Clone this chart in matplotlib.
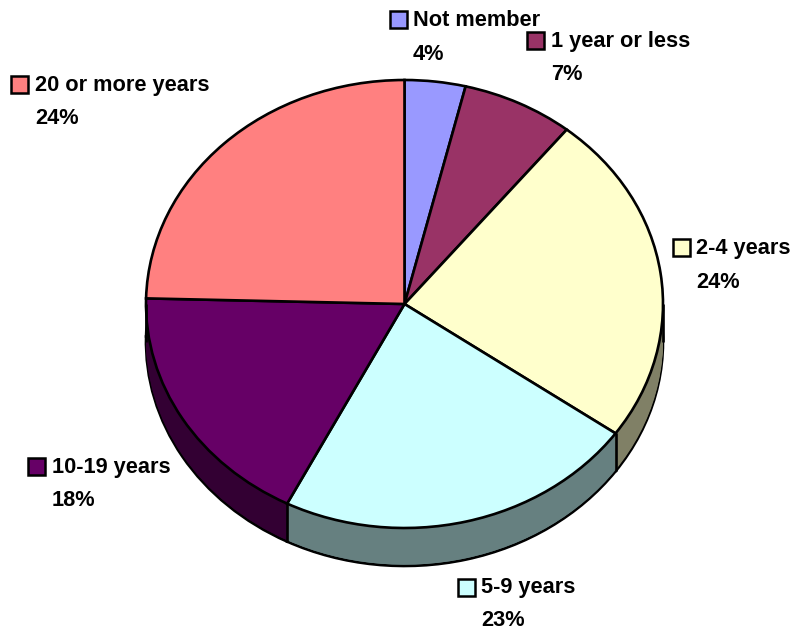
import numpy as np
import matplotlib
matplotlib.use("Agg")
import matplotlib.pyplot as plt
from matplotlib.patches import Rectangle

categories = ["Not member", "1 year or less", "2-4 years", "5-9 years", "10-19 years", "20 or more years"]
shares = [3.8, 7.0, 24.0, 22.7, 17.9, 24.6]
pct_labels = ["4%", "7%", "24%", "23%", "18%", "24%"]
top_colors = ["#9999FF", "#993366", "#FFFFCC", "#CCFFFF", "#660066", "#FF8080"]
side_colors = ["#666699", "#4d1a33", "#808066", "#668080", "#330033", "#804040"]

W, H = 794, 635
CX, CY, RX, RY, DEPTH = 404.5, 304, 258.5, 224, 38

# label anchors in pixels: swatch left/top, name x, name y, pct x, pct y
label_pos = {
    "Not member": (390, 11, 413, 20, 413, 54),
    "1 year or less": (527, 32, 551, 41, 551, 74),
    "2-4 years": (673, 239, 696, 249, 696, 282),
    "5-9 years": (458, 579, 481, 588, 481, 621),
    "10-19 years": (28, 458, 52, 467, 52, 501),
    "20 or more years": (11, 76, 35, 86, 35, 118),
}

plt.rcParams["font.family"] = ["Liberation Sans", "DejaVu Sans"]
fig = plt.figure(figsize=(W / 100, H / 100), dpi=100)
ax = fig.add_axes([0, 0, 1, 1])

depth = DEPTH / RY
kw = dict(startangle=90, counterclock=False, radius=1)
LW = 1.9

# side wall: stacked copies of the pie, bottom one keeps the outline
ax.pie(shares, colors=side_colors, center=(0, -depth), wedgeprops=dict(edgecolor="black", linewidth=LW), **kw)
for off in np.linspace(depth - 0.006, 0.0, 30):
    ax.pie(shares, colors=side_colors, center=(0, -off), wedgeprops=dict(linewidth=0), **kw)

# wall edges at slice borders and at the outer sides
ends = 90 - np.cumsum(shares) / np.sum(shares) * 360
for a in ends:
    x, y = np.cos(np.radians(a)), np.sin(np.radians(a))
    if y < 0:
        ax.plot([x, x], [y, y - depth], color="black", lw=LW, solid_capstyle="butt")
for x in [-1, 1]:
    ax.plot([x, x], [0, -depth], color="black", lw=LW, solid_capstyle="butt")

ax.pie(shares, colors=top_colors, center=(0, 0), wedgeprops=dict(edgecolor="black", linewidth=LW), **kw)

ax.set_aspect("auto")
ax.set_xlim(-CX / RX, (W - CX) / RX)
ax.set_ylim(-(H - CY) / RY, CY / RY)
ax.axis("off")

for name, pct, col in zip(categories, pct_labels, top_colors):
    sx, sy, nx, ny, px, py = label_pos[name]
    fig.add_artist(Rectangle((sx / W, 1 - (sy + 17) / H), 16.5 / W, 17 / H, transform=fig.transFigure,
                             facecolor=col, edgecolor="black", linewidth=1.8))
    fig.text(nx / W, 1 - ny / H, name, fontsize=15.7, fontweight="bold", va="center", ha="left")
    fig.text(px / W, 1 - py / H, pct, fontsize=15.7, fontweight="bold", va="center", ha="left")

fig.savefig("out.png", dpi=100)
